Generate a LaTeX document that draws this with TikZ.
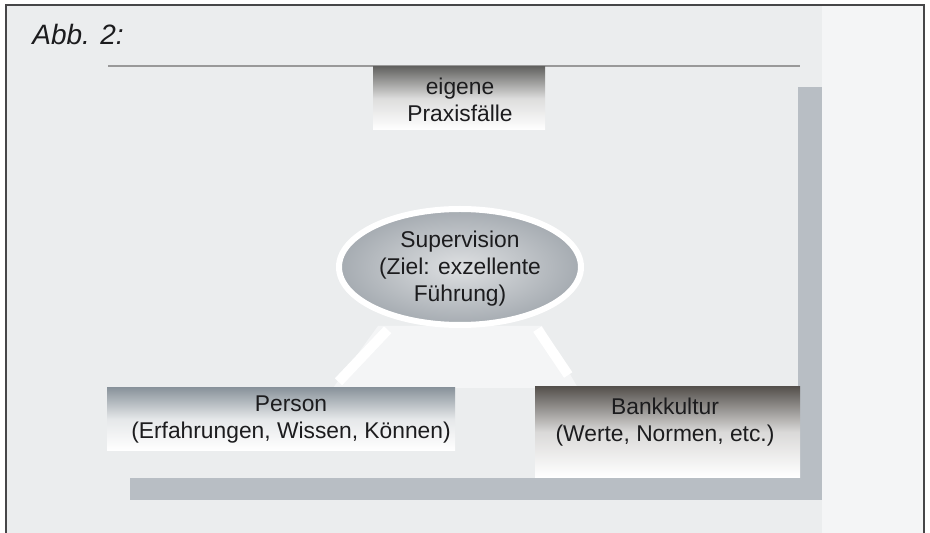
\documentclass[tikz,border=0pt]{standalone}
\usepackage{fontspec}
\setmainfont{Liberation Sans}
\usetikzlibrary{shapes.geometric,positioning}

\definecolor{rahmen}{RGB}{70,70,72}
\definecolor{raster}{RGB}{235,237,238}
\definecolor{rasterhell}{RGB}{244,245,246}
\definecolor{balken}{RGB}{184,190,196}
\definecolor{kopfgrau}{RGB}{100,100,98}
\definecolor{personblau}{RGB}{138,148,156}
\definecolor{kulturgrau}{RGB}{86,82,78}
\definecolor{ovalrand}{RGB}{165,171,177}
\definecolor{ovalinnen}{RGB}{222,224,226}
\definecolor{textgrau}{RGB}{28,28,30}

\tikzset{
  kasten/.style={rectangle, inner sep=0pt, top color=#1, bottom color=white, middle color=#1!22!white},
  schrift/.style={align=center, inner sep=0pt, text=textgrau, font=\fontsize{11.4}{13.5}\selectfont},
  oval/.style={ellipse, inner sep=0pt, draw=white, line width=3pt, inner color=ovalinnen, outer color=ovalrand},
  zufluss/.style={white, line width=5pt},
}

\begin{document}
\begin{tikzpicture}[x=0.5pt,y=-0.5pt]
    \useasboundingbox (0,0) rectangle (930,533);
    % Raster
    \fill[raster] (6,6) rectangle (924,533);
    \fill[rasterhell] (822,6) rectangle (924,533);
    \fill[rasterhell] (378,326) -- (542,326) -- (578,388) -- (333,388) -- cycle;
    % Winkel aus Balken
    \fill[balken] (798,87) rectangle (822,500);
    \fill[balken] (130,478) rectangle (822,500);
    \draw[black!40, line width=0.6pt] (108,66) -- (800,66);
    % Kaesten
    \node[kasten=kopfgrau, minimum width=86pt, minimum height=31.5pt] (praxis) at (459,98.5) {};
    \node[kasten=personblau, minimum width=174pt, minimum height=31pt] (person) at (281,419) {};
    \node[kasten=kulturgrau, minimum width=132.5pt, minimum height=45pt] (bank) at (667.5,432) {};
    \node[oval, minimum width=121pt, minimum height=58pt] (super) at (460,267) {};
    % Zufluesse zur Supervision
    \draw[zufluss, shorten <=4pt, shorten >=7pt] ([xshift=26pt]person.north) -- (super.220);
    \draw[zufluss, shorten <=7pt, shorten >=7pt] ([xshift=-45.75pt]bank.north) -- (super.324);
    % Texte
    \node[anchor=base west, inner sep=0pt, text=textgrau, font=\fontsize{14}{16}\selectfont\itshape] (abb) at (32,45) {Abb. 2:};
    \node[schrift] (praxistext) at (460,100) {eigene\\Praxisfälle};
    \node[schrift] (supertext) at (460,269) {Supervision\\(Ziel: exzellente\\Führung)};
    \node[schrift] (persontext) at (291,419.5) {Person\\(Erfahrungen, Wissen, Können)};
    \node[schrift] (banktext) at (665,422.5) {Bankkultur\\(Werte, Normen, etc.)};
    % Rahmen
    \draw[rahmen, line width=1pt] (6,533) -- (6,5) -- (924,5) -- (924,533);
\end{tikzpicture}
\end{document}
